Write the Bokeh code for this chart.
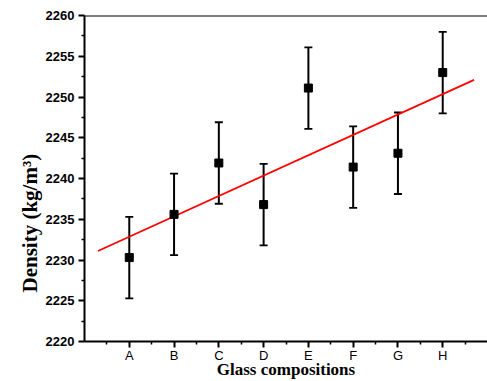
from bokeh.plotting import figure
from bokeh.models import (ColumnDataSource, Range1d, FixedTicker, Whisker, TeeHead, Span, Title)
from bokeh.embed import file_html
from bokeh.resources import INLINE

# ---- data ----
categories = ["A", "B", "C", "D", "E", "F", "G", "H"]
positions = [1, 2, 3, 4, 5, 6, 7, 8]
density = [2230.3, 2235.6, 2241.9, 2236.8, 2251.1, 2241.4, 2243.1, 2253.0]
errors = [5, 5, 5, 5, 5, 5, 5, 5]
fit_x = [0.3, 8.7]
fit_y = [2231.1, 2252.1]
y_ticks = [2220, 2225, 2230, 2235, 2240, 2245, 2250, 2255, 2260]
y_minor = [2222.5, 2227.5, 2232.5, 2237.5, 2242.5, 2247.5, 2252.5, 2257.5]
x_minor = [0.5, 1.5, 2.5, 3.5, 4.5, 5.5, 6.5, 7.5, 8.5]

src = ColumnDataSource(dict(
    x=positions, y=density,
    upper=[d + e for d, e in zip(density, errors)],
    lower=[d - e for d, e in zip(density, errors)],
))

p = figure(width=487, height=381, output_backend="svg", toolbar_location=None,
           x_range=Range1d(0, 9), y_range=Range1d(2220, 2260),
           min_border_left=84, min_border_right=0, min_border_top=15, min_border_bottom=38)
p.outline_line_color = None
p.background_fill_color = "white"
p.border_fill_color = "white"
p.xgrid.visible = False
p.ygrid.visible = False

# fit line
p.line(fit_x, fit_y, line_color="red", line_width=1.8)

# error bars
w = Whisker(base="x", upper="upper", lower="lower", source=src,
            line_color="black", line_width=2,
            upper_head=TeeHead(size=8, line_color="black", line_width=1.8),
            lower_head=TeeHead(size=8, line_color="black", line_width=1.8))
p.add_layout(w)

p.scatter("x", "y", source=src, marker="square", size=8, color="black")

# top border line
p.add_layout(Span(location=2260, dimension="width", line_color="black", line_width=2))

# axes
for ax in (p.xaxis[0], p.yaxis[0]):
    ax.axis_line_width = 2
    ax.axis_line_color = "black"
    ax.major_tick_line_width = 2
    ax.minor_tick_line_width = 1.5
    ax.major_tick_in = 0
    ax.major_tick_out = 6
    ax.minor_tick_in = 0
    ax.minor_tick_out = 3
    ax.major_label_text_font = "Liberation Sans"
    ax.major_label_text_font_size = "13px"
    ax.major_label_text_color = "black"
    ax.axis_label_text_font = "Liberation Serif"
    ax.axis_label_text_font_style = "bold"
    ax.axis_label_text_font_size = "17px"
    ax.axis_label_text_color = "black"

p.xaxis.ticker = FixedTicker(ticks=positions, minor_ticks=x_minor)
p.xaxis.major_label_overrides = {pos: c for pos, c in zip(positions, categories)}
p.xaxis.axis_label = "Glass compositions"
p.xaxis.major_label_standoff = 0
p.xaxis.axis_label_standoff = -6

p.yaxis.ticker = FixedTicker(ticks=y_ticks, minor_ticks=y_minor)
p.yaxis.major_label_text_font_style = "bold"
p.yaxis.major_label_standoff = 4

# y axis title placed in the left panel, anchored low as in the reference
p.add_layout(Title(text="Density (kg/m³)", align="left", offset=49,
                   text_font="Liberation Serif", text_font_style="bold",
                   text_font_size="21px", text_color="black", standoff=2), "left")

open("out.html", "w").write(file_html(p, INLINE))
